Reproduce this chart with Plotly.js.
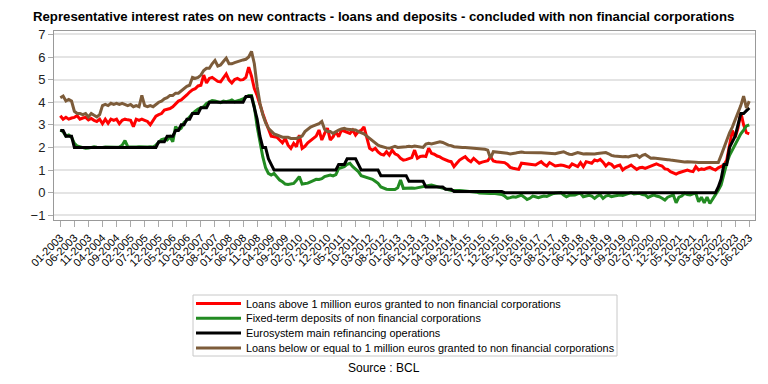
<!DOCTYPE html>
<html>
<head>
<meta charset="utf-8">
<script src="https://cdn.plot.ly/plotly-3.0.1.min.js"></script>
<style>
html,body{margin:0;padding:0;background:#fff;}
#chart{width:768px;height:384px;}
</style>
</head>
<body>
<div id="chart"></div>
<script>
// Monthly observations, 01-2003 .. 06-2023 (one row per year)
const loansAbove1M = [
  3.4, 3.25, 3.33, 3.25, 3.3, 3.33, 3.4, 3.25, 3.3, 3.33, 3.22, 3.28,
  3.2, 3.15, 3.25, 3.05, 3.25, 3.07, 3.25, 3.2, 3.25, 3.05, 3.2, 3.25,
  3.22, 3.2, 2.92, 3.25, 3.2, 3.25, 3.2, 3.15, 3.0, 3.2, 3.38, 3.45,
  3.5, 3.65, 3.68, 3.72, 3.8, 3.95, 4.05, 4.1, 4.2, 4.32, 4.45, 4.55,
  4.6, 4.72, 4.75, 5.2, 4.85, 5.05, 5.1, 5.0, 4.92, 4.9, 5.05, 5.25,
  4.98, 4.85, 5.0, 5.05, 4.98, 5.0, 5.1, 5.55, 5.15, 4.6, 4.3, 3.85,
  3.5, 3.15, 2.85, 2.5, 2.47, 2.45, 2.33, 2.2, 2.4, 2.1, 1.96, 2.18,
  2.03, 2.55, 1.96, 2.05, 2.2, 2.3, 2.4, 2.5, 2.77, 2.33, 2.62, 2.85,
  2.33, 2.47, 2.7, 2.47, 2.77, 2.72, 2.7, 2.62, 2.77, 2.55, 2.7, 2.75,
  2.91, 2.47, 1.96, 1.88, 1.96, 1.8, 1.7, 1.66, 1.81, 1.66, 1.88, 1.72,
  1.66, 1.52, 1.44, 1.46, 1.52, 1.55, 1.88, 1.52, 1.6, 1.62, 1.6, 1.96,
  1.74, 1.7, 1.62, 1.58, 1.5, 1.44, 1.4, 1.37, 1.15, 1.3, 1.44, 1.52,
  1.59, 1.45, 1.37, 1.52, 1.42, 1.3, 1.35, 1.37, 1.41, 1.59, 1.4, 1.37,
  1.36, 1.35, 1.33, 1.25, 1.12, 1.08, 1.05, 1.03, 1.3, 1.28, 1.27, 1.25,
  1.24, 1.22, 1.3, 1.37, 1.25, 1.18, 1.33, 1.25, 1.18, 1.2, 1.22, 1.2,
  1.15, 1.12, 1.27, 1.2, 1.15, 1.33, 1.15, 1.37, 1.33, 1.3, 1.44, 1.4,
  1.47, 1.35, 1.18, 1.3, 1.25, 1.12, 1.18, 1.22, 1.0, 1.1, 1.15, 1.22,
  1.12, 1.03, 1.1, 1.12, 1.07, 1.12, 1.18, 1.22, 1.27, 1.22, 1.18, 1.05,
  1.03, 0.93, 0.88, 0.82, 0.88, 0.93, 0.98, 1.0, 0.95, 0.93, 1.15, 1.0,
  1.05, 1.03, 1.08, 1.12, 1.05, 1.0, 1.1, 1.15, 1.22, 1.44, 2.1, 2.75,
  2.45, 2.85, 3.55, 3.0, 2.65, 2.6
];

const fixedTermDeposits = [
  2.77, 2.7, 2.5, 2.55, 2.45, 2.18, 2.06, 2.03, 2.0, 1.96, 1.97, 2.0,
  2.03, 2.01, 2.0, 2.0, 2.02, 2.01, 2.0, 2.02, 2.01, 2.02, 2.1, 2.3,
  2.03, 2.02, 2.01, 2.02, 2.03, 2.02, 2.03, 2.02, 2.03, 2.02, 2.1, 2.25,
  2.35, 2.38, 2.33, 2.47, 2.25, 2.92, 2.77, 2.85, 3.1, 3.2, 3.36, 3.5,
  3.6, 3.7, 3.75, 3.8, 3.95, 4.0, 4.07, 4.05, 4.0, 3.98, 4.05, 4.02,
  4.05, 4.1, 4.02, 4.05, 4.1, 4.15, 4.24, 4.3, 4.3, 3.8, 2.92, 2.18,
  1.59, 1.1, 0.85, 0.78, 0.85, 0.7, 0.56, 0.48, 0.38, 0.36, 0.38, 0.41,
  0.55, 0.71, 0.38, 0.4, 0.42, 0.48, 0.55, 0.59, 0.58, 0.62, 0.71, 0.74,
  0.78, 0.74, 0.8, 1.07, 1.12, 1.15, 1.25, 1.3, 1.15, 1.05, 0.93, 0.75,
  0.71, 0.65, 0.6, 0.59, 0.5, 0.41, 0.25, 0.19, 0.15, 0.14, 0.14, 0.14,
  0.22, 0.56, 0.19, 0.2, 0.19, 0.2, 0.19, 0.22, 0.25, 0.29, 0.3, 0.32,
  0.34, 0.3, 0.29, 0.25, 0.2, 0.14, 0.1, 0.09, 0.09, 0.1, 0.09, 0.08,
  0.07, 0.05, 0.04, 0.03, 0.02, -0.02, -0.03, -0.05, -0.06, -0.04, -0.03, -0.05,
  -0.06, -0.08, -0.15, -0.25, -0.22, -0.18, -0.2, -0.15, -0.11, -0.2, -0.3, -0.25,
  -0.15, -0.18, -0.22, -0.18, -0.15, -0.17, -0.1, -0.05, -0.03, 0.0, 0.0, -0.1,
  -0.18, -0.12, -0.11, -0.1, -0.05, -0.03, -0.18, -0.15, -0.12, -0.15, -0.25, -0.15,
  -0.1, -0.25, -0.15, -0.12, -0.18, -0.15, -0.12, -0.1, -0.12, -0.08, -0.05, 0.0,
  -0.06, -0.05, -0.03, -0.08, -0.1, -0.21, -0.15, -0.1, -0.15, -0.18, -0.25, -0.33,
  -0.2, -0.15, -0.1, -0.45, -0.2, -0.15, -0.03, -0.08, -0.1, -0.05, -0.03, -0.4,
  -0.2, -0.45, -0.2, -0.48, -0.3, -0.1, 0.11, 0.34, 0.85, 1.3, 1.65, 1.9,
  2.15, 2.4, 2.6, 2.77, 2.95, 3.0
];

const mainRefinancing = [
  2.75, 2.75, 2.5, 2.5, 2.5, 2.0, 2.0, 2.0, 2.0, 2.0, 2.0, 2.0,
  2.0, 2.0, 2.0, 2.0, 2.0, 2.0, 2.0, 2.0, 2.0, 2.0, 2.0, 2.0,
  2.0, 2.0, 2.0, 2.0, 2.0, 2.0, 2.0, 2.0, 2.0, 2.0, 2.0, 2.25,
  2.25, 2.25, 2.5, 2.5, 2.5, 2.75, 2.75, 3.0, 3.0, 3.25, 3.25, 3.5,
  3.5, 3.5, 3.75, 3.75, 3.75, 4.0, 4.0, 4.0, 4.0, 4.0, 4.0, 4.0,
  4.0, 4.0, 4.0, 4.0, 4.0, 4.0, 4.25, 4.25, 4.25, 3.75, 3.25, 2.5,
  2.0, 2.0, 1.5, 1.25, 1.0, 1.0, 1.0, 1.0, 1.0, 1.0, 1.0, 1.0,
  1.0, 1.0, 1.0, 1.0, 1.0, 1.0, 1.0, 1.0, 1.0, 1.0, 1.0, 1.0,
  1.0, 1.0, 1.0, 1.25, 1.25, 1.25, 1.5, 1.5, 1.5, 1.5, 1.25, 1.0,
  1.0, 1.0, 1.0, 1.0, 1.0, 1.0, 0.75, 0.75, 0.75, 0.75, 0.75, 0.75,
  0.75, 0.75, 0.75, 0.75, 0.5, 0.5, 0.5, 0.5, 0.5, 0.5, 0.25, 0.25,
  0.25, 0.25, 0.25, 0.25, 0.25, 0.15, 0.15, 0.15, 0.05, 0.05, 0.05, 0.05,
  0.05, 0.05, 0.05, 0.05, 0.05, 0.05, 0.05, 0.05, 0.05, 0.05, 0.05, 0.05,
  0.05, 0.05, 0.0, 0.0, 0.0, 0.0, 0.0, 0.0, 0.0, 0.0, 0.0, 0.0,
  0.0, 0.0, 0.0, 0.0, 0.0, 0.0, 0.0, 0.0, 0.0, 0.0, 0.0, 0.0,
  0.0, 0.0, 0.0, 0.0, 0.0, 0.0, 0.0, 0.0, 0.0, 0.0, 0.0, 0.0,
  0.0, 0.0, 0.0, 0.0, 0.0, 0.0, 0.0, 0.0, 0.0, 0.0, 0.0, 0.0,
  0.0, 0.0, 0.0, 0.0, 0.0, 0.0, 0.0, 0.0, 0.0, 0.0, 0.0, 0.0,
  0.0, 0.0, 0.0, 0.0, 0.0, 0.0, 0.0, 0.0, 0.0, 0.0, 0.0, 0.0,
  0.0, 0.0, 0.0, 0.0, 0.0, 0.0, 0.25, 0.6, 1.25, 1.25, 2.0, 2.25,
  2.5, 3.0, 3.5, 3.5, 3.65, 3.75
];

const loansBelow1M = [
  4.2, 4.27, 4.05, 4.12, 4.05, 3.6, 3.5, 3.5, 3.45, 3.5, 3.35, 3.5,
  3.42, 3.35, 3.45, 3.85, 3.9, 3.85, 3.95, 3.9, 3.95, 3.9, 3.95, 3.9,
  3.85, 3.9, 3.8, 3.85, 3.8, 4.3, 3.85, 3.8, 3.85, 3.8, 3.9, 4.0,
  4.05, 4.15, 4.2, 4.3, 4.3, 4.4, 4.4, 4.5, 4.6, 4.7, 4.75, 5.1,
  5.05, 5.1, 5.2, 5.4, 5.5, 5.5, 5.7, 5.85, 5.6, 5.65, 5.8, 5.95,
  5.7, 5.7, 5.75, 5.8, 5.82, 5.87, 5.9, 6.0, 6.25, 5.7, 4.7, 3.95,
  3.45, 3.1, 2.85, 2.7, 2.6, 2.55, 2.5, 2.45, 2.45, 2.45, 2.4, 2.4,
  2.4, 2.45, 2.5, 2.7, 2.8, 2.9, 2.95, 3.0, 3.05, 3.15, 2.8, 2.7,
  2.7, 2.62, 2.7, 2.77, 2.82, 2.85, 2.8, 2.8, 2.78, 2.77, 2.7, 2.65,
  2.6, 2.5, 2.4, 2.3, 2.2, 2.1, 2.05, 2.0, 1.98, 1.96, 2.0, 2.05,
  2.0, 2.0, 2.02, 2.03, 2.05, 2.03, 2.06, 2.03, 2.0, 2.0, 2.15, 2.18,
  2.15, 2.18, 2.2, 2.25, 2.22, 2.15, 2.1, 2.08, 2.03, 2.02, 2.0, 2.0,
  2.0, 1.99, 1.98, 1.97, 1.97, 1.96, 1.95, 1.92, 1.88, 1.52, 1.81, 1.8,
  1.78, 1.77, 1.75, 1.74, 1.71, 1.72, 1.75, 1.78, 1.8, 1.78, 1.77, 1.76,
  1.78, 1.77, 1.76, 1.77, 1.76, 1.75, 1.74, 1.73, 1.72, 1.75, 1.78, 1.81,
  1.75, 1.7, 1.69, 1.72, 1.77, 1.74, 1.71, 1.72, 1.71, 1.72, 1.71, 1.73,
  1.74, 1.74, 1.77, 1.72, 1.65, 1.62, 1.6, 1.59, 1.59, 1.6, 1.58, 1.62,
  1.64, 1.66, 1.56, 1.65, 1.69, 1.6, 1.52, 1.53, 1.52, 1.52, 1.5, 1.48,
  1.46, 1.44, 1.42, 1.4, 1.37, 1.37, 1.36, 1.37, 1.37, 1.36, 1.34, 1.33,
  1.34, 1.33, 1.33, 1.33, 1.32, 1.33, 1.33, 1.65, 2.0, 2.33, 2.65, 2.9,
  3.2, 3.5, 3.85, 4.27, 3.75, 4.05
];

const tickLabels = [
  "01-2003","06-2003","11-2003","04-2004","09-2004","02-2005","07-2005","12-2005",
  "05-2006","10-2006","03-2007","08-2007","01-2008","06-2008","11-2008","04-2009",
  "09-2009","02-2010","07-2010","12-2010","05-2011","10-2011","03-2012","08-2012",
  "01-2013","06-2013","11-2013","04-2014","09-2014","02-2015","07-2015","12-2015",
  "05-2016","10-2016","03-2017","08-2017","01-2018","06-2018","11-2018","04-2019",
  "09-2019","02-2020","07-2020","12-2020","05-2021","10-2021","03-2022","08-2022",
  "01-2023","06-2023"
];
const tickStep = 5; // a label every 5 months

const seriesNames = [
  "Loans above 1 million euros granted to non financial corporations",
  "Fixed-term deposits of non financial corporations",
  "Eurosystem main refinancing operations",
  "Loans below or equal to 1 million euros granted to non financial corporations"
];
const seriesColors = ["#ff0000", "#228b22", "#000000", "#7d5c3a"];
const seriesData = [loansAbove1M, fixedTermDeposits, mainRefinancing, loansBelow1M];

const monthIndex = loansAbove1M.map((_, i) => i);
const tickVals = tickLabels.map((_, i) => i * tickStep);

const FONT = "Arial, 'Liberation Sans', sans-serif";

const traces = seriesData.map((ys, k) => ({
  type: "scatter",
  mode: "lines",
  x: monthIndex,
  y: ys,
  name: seriesNames[k],
  line: {color: seriesColors[k], width: 3},
  showlegend: false
}));

// plot area geometry (pixels) used to place the hand-built legend
const W = 768, H = 384;
const M = {l: 54, r: 13, t: 31, b: 164};
const pw = W - M.l - M.r, ph = H - M.t - M.b;
const px = x => (x - M.l) / pw;
const py = y => (H - M.b - y) / ph;

const shapes = [{
  type: "rect", xref: "paper", yref: "paper",
  x0: px(193), x1: px(617), y0: py(356), y1: py(295),
  line: {color: "#c8c8c8", width: 1}, fillcolor: "#ffffff", layer: "below"
}];
const annotations = [];
const rowY = [303.5, 318.3, 333.1, 347.9];
seriesNames.forEach((nm, k) => {
  shapes.push({
    type: "line", xref: "paper", yref: "paper",
    x0: px(196), x1: px(241), y0: py(rowY[k]), y1: py(rowY[k]),
    line: {color: seriesColors[k], width: 3}
  });
  annotations.push({
    xref: "paper", yref: "paper", x: px(244), y: py(rowY[k]),
    xanchor: "left", yanchor: "middle", showarrow: false,
    text: nm, font: {family: FONT, size: 10.9, color: "#000"}
  });
});
annotations.push({
  xref: "paper", yref: "paper", x: px(383.5), y: py(368),
  xanchor: "center", yanchor: "middle", showarrow: false,
  text: "Source : BCL", font: {family: FONT, size: 12, color: "#000"}
});

const layout = {
  width: W, height: H,
  margin: M,
  paper_bgcolor: "#ffffff",
  plot_bgcolor: "#ffffff",
  font: {family: FONT, color: "#000"},
  title: {
    text: "<b>Representative interest rates on new contracts - loans and deposits - concluded with non financial corporations</b>",
    x: 33 / W, xanchor: "left", xref: "container",
    y: 1 - 16 / H, yanchor: "middle", yref: "container",
    font: {family: FONT, size: 13.2, color: "#000"}
  },
  xaxis: {
    range: [-2.24, 247.05],
    tickmode: "array", tickvals: tickVals, ticktext: tickLabels,
    tickangle: -45,
    tickfont: {family: FONT, size: 11, color: "#000"},
    ticks: "outside", ticklen: 6, tickcolor: "#aaaaaa", tickwidth: 1,
    showgrid: false, zeroline: false,
    showline: true, linecolor: "#999999", linewidth: 1, mirror: true
  },
  yaxis: {
    range: [-1.21, 7.15],
    tickmode: "array", tickvals: [-1, 0, 1, 2, 3, 4, 5, 6, 7],
    tickfont: {family: FONT, size: 13, color: "#222"},
    ticks: "outside", ticklen: 5, tickcolor: "#aaaaaa", tickwidth: 1,
    showgrid: true, gridcolor: "#e4e4e4", gridwidth: 2,
    zeroline: false,
    showline: true, linecolor: "#999999", linewidth: 1, mirror: true
  },
  shapes: shapes,
  annotations: annotations,
  showlegend: false
};

Plotly.newPlot("chart", traces, layout, {displayModeBar: false, staticPlot: true});
</script>
</body>
</html>
